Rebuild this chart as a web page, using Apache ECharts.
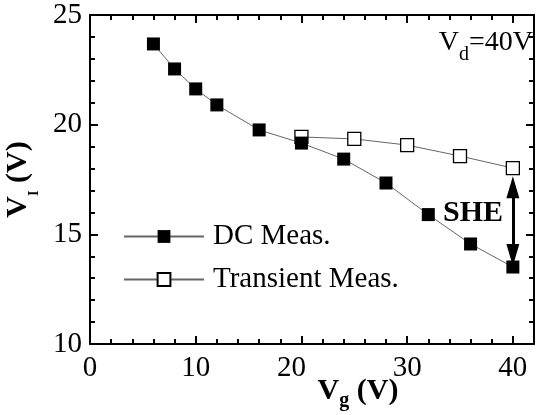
<!DOCTYPE html>
<html>
<head>
<meta charset="utf-8">
<script src="https://cdn.jsdelivr.net/npm/echarts@6/dist/echarts.min.js"></script>
<style>
html,body{margin:0;padding:0;background:#fff;}
#chart{width:540px;height:415px;}
</style>
</head>
<body>
<div id="chart"></div>
<script>
// ---- data ----
var dcVg = [6, 8, 10, 12, 16, 20, 24, 28, 32, 36, 40];
var dcVI = [23.68, 22.54, 21.63, 20.9, 19.76, 19.16, 18.43, 17.34, 15.9, 14.56, 13.51];
var trVg = [20, 25, 30, 35, 40];
var trVI = [19.44, 19.35, 19.07, 18.57, 18.02];
var xTicks = [0, 10, 20, 30, 40];
var yTicks = [10, 15, 20, 25];
var sheFrom = 17.15, sheTo = 14.06; // arrow extent along V_I at Vg = 40

var FONT = 'Liberation Serif';
function pairs(xs, ys){ return xs.map(function(x,i){ return [x, ys[i]]; }); }

var chart = echarts.init(document.getElementById('chart'), null, {renderer:'canvas'});

var axisLineStyle = {color:'#000', width:2};
function majorX(pos, showLabel){
  return {
    gridIndex:0, type:'value', position:pos, min:0, max:42, interval:10,
    axisLine:{show:true, onZero:false, lineStyle:axisLineStyle},
    axisTick:{show:true, inside:true, length:8, lineStyle:{color:'#000', width:2}},
    splitLine:{show:false},
    axisLabel:{show:showLabel, showMaxLabel:false, color:'#000', fontFamily:FONT, fontSize:29, margin:10,
      formatter:function(v){ return v === 20 ? '{s|20}' : String(v); },
      rich:{s:{fontFamily:FONT, fontSize:29, color:'#000', padding:[0,20,0,0]}}}
  };
}
function minorX(pos){
  return {
    gridIndex:1, type:'value', position:pos, min:0, max:42, interval:2,
    axisLine:{show:false}, axisLabel:{show:false}, splitLine:{show:false},
    axisTick:{show:true, inside:true, length:5, lineStyle:{color:'#000', width:2}}
  };
}
function yAx(pos, showLabel){
  return {
    gridIndex:0, type:'value', position:pos, min:10, max:25, interval:5,
    axisLine:{show:true, onZero:false, lineStyle:axisLineStyle},
    axisTick:{show:true, inside:true, length:8, lineStyle:{color:'#000', width:2}},
    minorTick:{show:true, splitNumber:5, length:5, lineStyle:{color:'#000', width:2}},
    splitLine:{show:false}, minorSplitLine:{show:false},
    axisLabel:{show:showLabel, color:'#000', fontFamily:FONT, fontSize:29, margin:8}
  };
}

var xa0 = majorX('bottom', true);
xa0.name = '{b|V}{s|g}{b| (V)}';
xa0.nameLocation = 'middle';
xa0.nameGap = 32;
xa0.nameMoveOverlap = false;
xa0.nameTextStyle = {padding:[0,0,0,92], rich:{
  b:{fontFamily:FONT, fontSize:30, fontWeight:'bold', color:'#000', verticalAlign:'top'},
  s:{fontFamily:FONT, fontSize:20, fontWeight:'bold', color:'#000', verticalAlign:'top', padding:[15,0,0,0]}
}};
var ya0 = yAx('left', true);
ya0.name = '{b|V}{s|I}{b| (V)}';
ya0.nameLocation = 'middle';
ya0.nameGap = 49;
ya0.nameMoveOverlap = false;
ya0.nameTextStyle = {rich:{
  b:{fontFamily:FONT, fontSize:30, fontWeight:'bold', color:'#000', verticalAlign:'top'},
  s:{fontFamily:FONT, fontSize:14, fontWeight:'bold', color:'#000', verticalAlign:'top', padding:[24,0,0,0]}
}};

var option = {
  animation:false,
  backgroundColor:'#fff',
  grid:[
    {left:90, top:15, right:6, bottom:71, containLabel:false, outerBoundsMode:'none'},
    {left:90, top:15, right:6, bottom:71, containLabel:false, outerBoundsMode:'none'}
  ],
  xAxis:[xa0, majorX('top', false), minorX('bottom'), minorX('top')],
  yAxis:[ya0, yAx('right', false), {gridIndex:1, type:'value', min:10, max:25, show:false}],
  legend:{
    orient:'vertical', left:123, top:222, padding:0, itemWidth:80, itemHeight:16, itemGap:14,
    textStyle:{fontFamily:FONT, fontSize:29, color:'#000', padding:[0,0,0,4]},
    data:['DC Meas.', 'Transient Meas.'],
    selectedMode:false
  },
  series:[
    {
      name:'Transient Meas.', type:'line', xAxisIndex:0, yAxisIndex:0,
      data:pairs(trVg, trVI), symbol:'rect', symbolSize:13, z:2,
      itemStyle:{color:'#fff', borderColor:'#000', borderWidth:1.3},
      lineStyle:{color:'#666', width:1},
      markLine:{
        silent:true, symbol:['triangle','triangle'], symbolSize:[13,22],
        lineStyle:{color:'#000', width:3, type:'solid'},
        label:{show:false}, emphasis:{disabled:true},
        data:[[{coord:[40, sheFrom]}, {coord:[40, sheTo]}]]
      }
    },
    {
      name:'DC Meas.', type:'line', xAxisIndex:0, yAxisIndex:0,
      data:pairs(dcVg, dcVI), symbol:'rect', symbolSize:13, z:3,
      itemStyle:{color:'#000'},
      lineStyle:{color:'#666', width:1}
    }
  ],
  graphic:[
    {type:'text', right:7, top:29, style:{
      text:'{a|V}{d|d}{a|=40V}',
      rich:{
        a:{fontFamily:FONT, fontSize:28, fill:'#000', verticalAlign:'top'},
        d:{fontFamily:FONT, fontSize:20, fill:'#000', verticalAlign:'top', padding:[16,0,0,0]}
      }
    }},
    {type:'text', x:473, y:213, style:{text:'SHE', font:'bold 30px "Liberation Serif"', fill:'#000', align:'center', verticalAlign:'middle'}}
  ]
};
chart.setOption(option);
</script>
</body>
</html>
